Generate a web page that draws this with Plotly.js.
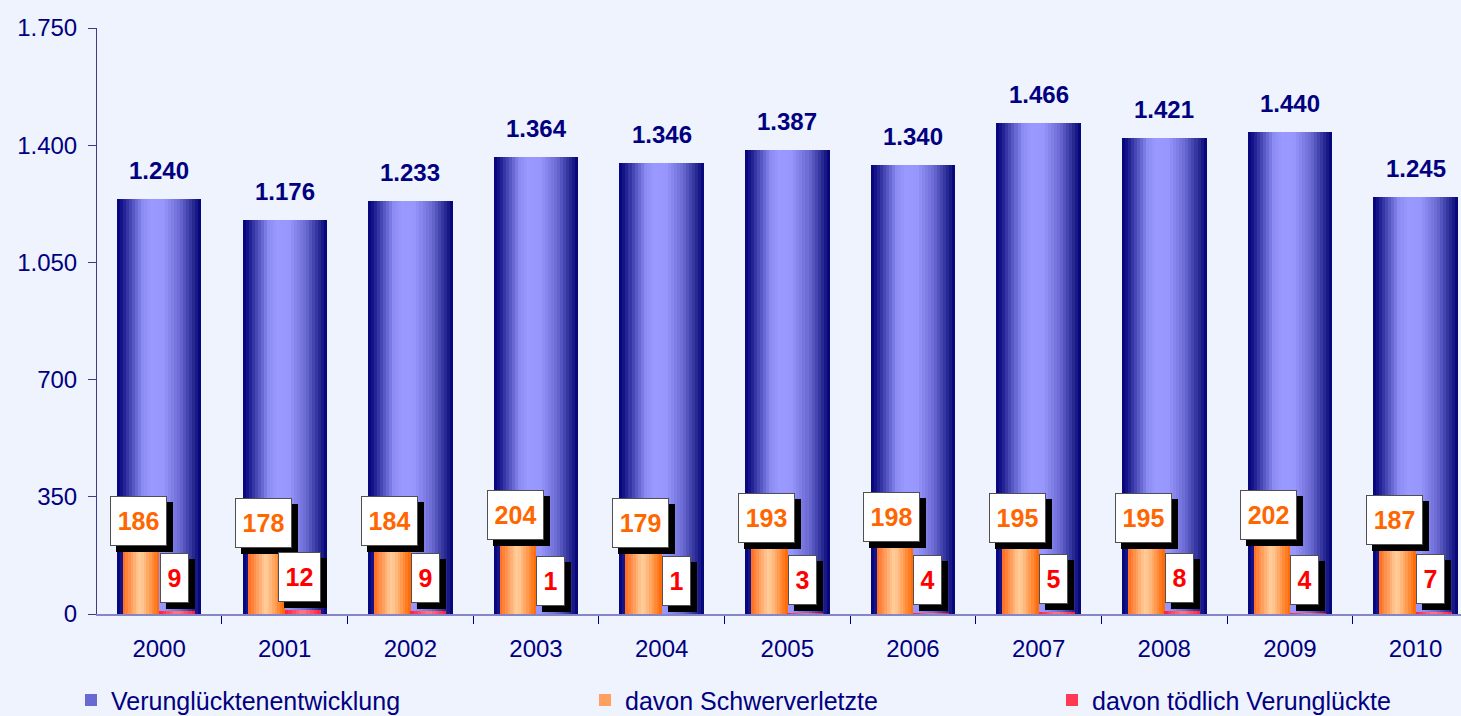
<!DOCTYPE html>
<html>
<head>
<meta charset="utf-8">
<script src="https://cdn.plot.ly/plotly-3.0.1.min.js"></script>
<style>
  html, body { margin: 0; padding: 0; background: #eef3fd; overflow: hidden; }
  #chart { width: 1461px; height: 716px; }
</style>
</head>
<body>
<div id="chart"></div>
<script>
// ---------------- DATA ----------------
const years = ['2000','2001','2002','2003','2004','2005','2006','2007','2008','2009','2010'];
const verunglueckte = [1240, 1176, 1233, 1364, 1346, 1387, 1340, 1466, 1421, 1440, 1245];
const schwerverletzte = [186, 178, 184, 204, 179, 193, 198, 195, 195, 202, 187];
const getoetete = [9, 12, 9, 1, 1, 3, 4, 5, 8, 4, 7];
const yTicks = [0, 350, 700, 1050, 1400, 1750];
const seriesNames = ['Verunglücktenentwicklung', 'davon Schwerverletzte', 'davon tödlich Verunglückte'];

// ---------------- STYLE ----------------
const FONT = 'Arial, "Liberation Sans", sans-serif';
const NAVY = '#000080';
const BG = '#eef3fd';
const blueStops = [[0,'#00007a'],[0.07,'#1a1a8c'],[0.3,'#8a8af2'],[0.4,'#9999ff'],[0.55,'#9797fd'],[0.75,'#6a6ad2'],[0.92,'#24248f'],[1,'#000078']];
const orangeStops = [[0,'#ff6a1c'],[0.45,'#ffcc99'],[0.55,'#ffc48e'],[1,'#ff6600']];
const redStops = [[0,'#ff1f3a'],[0.5,'#ff7a8a'],[1,'#ff1f3a']];

function hexToRgb(h){ h=h.replace('#',''); return [parseInt(h.substr(0,2),16),parseInt(h.substr(2,2),16),parseInt(h.substr(4,2),16)]; }
function interp(stops, t){
  for (let i=0;i<stops.length-1;i++){
    const [t0,c0]=stops[i],[t1,c1]=stops[i+1];
    if (t>=t0 && t<=t1){
      const f=(t-t0)/(t1-t0||1), a=hexToRgb(c0), b=hexToRgb(c1);
      return 'rgb('+a.map((v,k)=>Math.round(v+(b[k]-v)*f)).join(',')+')';
    }
  }
  return stops[stops.length-1][1];
}
function fmtDE(v){ return String(v).replace(/\B(?=(\d{3})+(?!\d))/g,'.'); }

const traces = [];
function gradientBars(values, name, start, width, stops, n, legendId, legendStrip){
  const step = width/n;
  for (let k=0;k<n;k++){
    const t=(k+0.5)/n;
    traces.push({
      type:'bar', x: years, y: values,
      offset: start + k*step,
      width: k<n-1 ? step*1.35 : step,
      marker:{color: interp(stops,t), line:{width:0}},
      name: name, legend: legendId, legendgroup: name,
      showlegend: k===legendStrip,
      hoverinfo:'skip'
    });
  }
}
gradientBars(verunglueckte, seriesNames[0], -0.336, 0.673, blueStops, 28, 'legend', 6);
gradientBars(schwerverletzte, seriesNames[1], -0.289, 0.292, orangeStops, 14, 'legend2', 3);
gradientBars(getoetete, seriesNames[2], 0.0, 0.287, redStops, 10, 'legend3', 1);

// ---------------- ANNOTATIONS ----------------
const annotations = [];
verunglueckte.forEach((v,i)=>{
  annotations.push({x:i, y:v, xref:'x', yref:'y', text:fmtDE(v), showarrow:false,
    yanchor:'bottom', yshift:13, font:{family:FONT, size:24, color:NAVY, weight:'bold'}});
});
function boxLabel(i, v, xc, color, yshift){
  const txt = String(v);
  const w = Math.round(13.9*txt.length) + 1;
  const common = {x:xc, y:v, xref:'x', yref:'y', showarrow:false,
    yanchor:'bottom', width:w, height:36, borderpad:6, borderwidth:1};
  // drop shadow (no text)
  annotations.push(Object.assign({}, common, {text:'\u00a0', xshift:3, yshift:yshift-6,
    bgcolor:'#000000', bordercolor:'#000000', font:{family:FONT, size:25, color:'#000000'}}));
  // white label box
  annotations.push(Object.assign({}, common, {text:txt, xshift:-3, yshift:yshift,
    bgcolor:'#ffffff', bordercolor:'#505050', font:{family:FONT, size:25, color:color, weight:'bold'}}));
}
schwerverletzte.forEach((v,i)=> boxLabel(i, v, i-0.143, '#ff6600', 6));
getoetete.forEach((v,i)=> boxLabel(i, v, i+0.143, '#ff0000', 8));

// ---------------- LAYOUT ----------------
const legendBase = {orientation:'h', xref:'container', yref:'container', y:0.022, yanchor:'middle',
  xanchor:'left', bgcolor:'rgba(0,0,0,0)', font:{family:FONT, size:25, color:NAVY}};
const layout = {
  width:1461, height:716,
  paper_bgcolor:BG, plot_bgcolor:BG,
  margin:{l:97, r:0, t:28, b:102},
  barmode:'overlay', bargap:0,
  separators:',.',
  font:{family:FONT, color:NAVY},
  xaxis:{type:'category', range:[-0.494, 10.362], tickson:'boundaries', ticks:'outside', ticklen:8,
    tickcolor:NAVY, showline:true, linecolor:'#8585c8', linewidth:2, showgrid:false, zeroline:false,
    tickfont:{family:FONT, size:24, color:NAVY}, ticklabelstandoff:12, fixedrange:true},
  yaxis:{range:[0,1750], tickvals:yTicks, tickformat:',d', ticks:'outside', ticklen:8, tickcolor:'#3c3c8c',
    showline:true, linecolor:'#3c3c8c', linewidth:1, showgrid:false, zeroline:false,
    tickfont:{family:FONT, size:24, color:NAVY}, ticklabelstandoff:6, fixedrange:true},
  legend: Object.assign({}, legendBase, {x:71/1461}),
  legend2: Object.assign({}, legendBase, {x:585/1461}),
  legend3: Object.assign({}, legendBase, {x:1052/1461}),
  annotations: annotations,
  showlegend:true
};
Plotly.newPlot('chart', traces, layout, {displayModeBar:false, staticPlot:true});
</script>
</body>
</html>
